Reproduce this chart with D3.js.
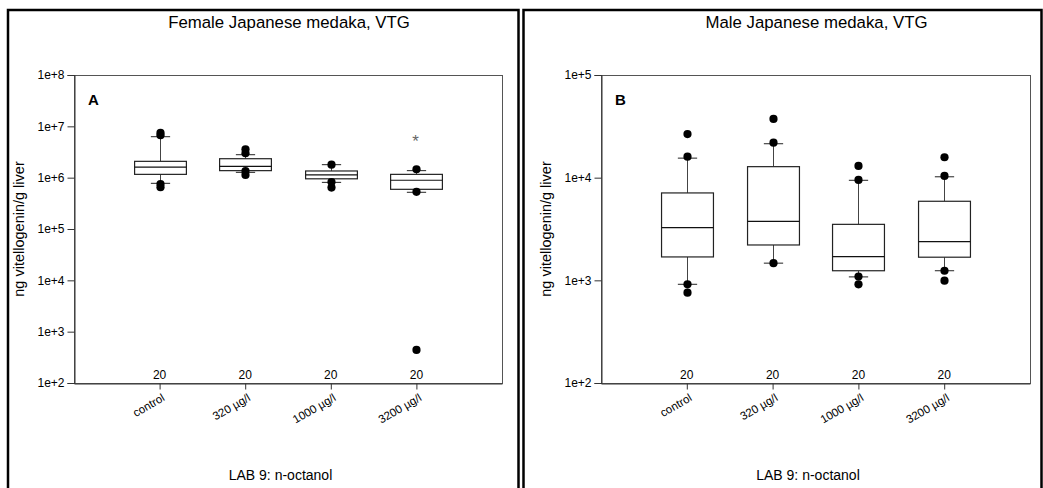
<!DOCTYPE html>
<html>
<head>
<meta charset="utf-8">
<script src="https://cdn.jsdelivr.net/npm/d3@7/dist/d3.min.js"></script>
<style>
  html, body { margin: 0; padding: 0; background: #fff; }
  svg { display: block; font-family: "Liberation Sans", Arial, sans-serif; }
</style>
</head>
<body>
<svg id="chart" width="1043" height="488"></svg>
<script>
// ---------- data ----------
const categories = ["control", "320 µg/l", "1000 µg/l", "3200 µg/l"];
const sampleSizes = ["20", "20", "20", "20"];
const xAxisTitle = "LAB 9: n-octanol";
const yAxisTitle = "ng vitellogenin/g liver";

// Female (panel A)
const femaleTitle = "Female Japanese medaka, VTG";
const femaleTicks = [1e2, 1e3, 1e4, 1e5, 1e6, 1e7, 1e8];
const femaleTickLabels = ["1e+2", "1e+3", "1e+4", "1e+5", "1e+6", "1e+7", "1e+8"];
const femaleQ1 = [1.16e6, 1.37e6, 9.5e5, 5.93e5];
const femaleMedian = [1.61e6, 1.66e6, 1.13e6, 8.9e5];
const femaleQ3 = [2.08e6, 2.34e6, 1.35e6, 1.16e6];
const femaleWhiskerLo = [7.76e5, 1.27e6, 8.1e5, 5.19e5];
const femaleWhiskerHi = [6.28e6, 2.8e6, 1.79e6, 1.37e6];
const femaleOutliers = [
  [7.5e6, 6.7e6, 7.5e5, 6.5e5],
  [3.57e6, 2.99e6, 1.35e6, 1.13e6],
  [1.79e6, 8.2e5, 6.4e5],
  [1.46e6, 5.3e5, 440]
];
const femaleSignif = ["", "", "", "*"];
const femaleSignifValue = [0, 0, 0, 5.8e6];

// Male (panel B)
const maleTitle = "Male Japanese medaka, VTG";
const maleTicks = [1e2, 1e3, 1e4, 1e5];
const maleTickLabels = ["1e+2", "1e+3", "1e+4", "1e+5"];
const maleQ1 = [1.69e3, 2.21e3, 1.24e3, 1.68e3];
const maleMedian = [3.26e3, 3.76e3, 1.70e3, 2.38e3];
const maleQ3 = [7.1e3, 1.28e4, 3.51e3, 5.89e3];
const maleWhiskerLo = [915, 1.47e3, 1.08e3, 1.24e3];
const maleWhiskerHi = [1.55e4, 2.14e4, 9.43e3, 1.02e4];
const maleOutliers = [
  [2.66e4, 1.6e4, 915, 758],
  [3.73e4, 2.19e4, 1.47e3],
  [1.30e4, 9.5e3, 1.09e3, 915],
  [1.58e4, 1.04e4, 1.24e3, 993]
];
const maleSignif = ["", "", "", ""];
const maleSignifValue = [0, 0, 0, 0];

// ---------- drawing ----------
const svg = d3.select("#chart");

function drawPanel(cfg) {
  const g = svg.append("g");
  // outer panel border
  g.append("rect")
    .attr("x", cfg.bx0).attr("y", 10)
    .attr("width", cfg.bx1 - cfg.bx0).attr("height", 500)
    .attr("fill", "none").attr("stroke", "#000").attr("stroke-width", 2.5);

  const top = 75, bottom = 383;
  const x = d3.scaleLinear().domain([0, categories.length + 1]).range([cfg.px0, cfg.px1]);
  const y = d3.scaleLog().domain(cfg.domain).range([bottom, top]);
  const band = x(1) - x(0);
  const boxW = band * 0.605;
  const capW = band * 0.225;

  // frame
  g.append("rect")
    .attr("x", cfg.px0 + 0.5).attr("y", top + 0.5)
    .attr("width", cfg.px1 - cfg.px0).attr("height", bottom - top)
    .attr("fill", "none").attr("stroke", "#555").attr("stroke-width", 1);

  // y axis
  const yAxis = d3.axisLeft(y).tickValues(cfg.ticks)
    .tickFormat((d, i) => cfg.tickLabels[i]).tickSize(7).tickPadding(3);
  const ya = g.append("g").attr("transform", `translate(${cfg.px0 + 0.5},0)`).call(yAxis);
  ya.select(".domain").attr("stroke", "#333");
  ya.selectAll(".tick line").attr("stroke", "#333");
  ya.selectAll(".tick text").attr("font-size", 12).attr("fill", "#000")
    .attr("font-family", "Liberation Sans, Arial, sans-serif");

  // x axis
  const xAxis = d3.axisBottom(x).tickValues(d3.range(1, categories.length + 1))
    .tickFormat("").tickSize(6).tickSizeOuter(0);
  const xa = g.append("g").attr("transform", `translate(0,${bottom + 0.5})`).call(xAxis);
  xa.select(".domain").attr("stroke", "#333");
  xa.selectAll(".tick line").attr("stroke", "#333");

  // category labels
  g.selectAll(".cat").data(categories).enter().append("text")
    .attr("transform", (d, i) => `translate(${x(i + 1) + 6},${bottom + 17}) rotate(-30)`)
    .attr("text-anchor", "end").attr("font-size", 11.5).attr("fill", "#000")
    .text(d => d);

  // n labels
  g.selectAll(".n").data(sampleSizes).enter().append("text")
    .attr("x", (d, i) => x(i + 1)).attr("y", bottom - 4)
    .attr("text-anchor", "middle").attr("font-size", 12).attr("fill", "#000")
    .text(d => d);

  const idx = d3.range(categories.length);
  idx.forEach(i => {
    const cx = Math.round(x(i + 1)) + 0.5;
    g.append("line").attr("x1", cx).attr("x2", cx)
      .attr("y1", y(cfg.whiskerHi[i])).attr("y2", y(cfg.q3[i]))
      .attr("stroke", "#444").attr("stroke-width", 1);
    g.append("line").attr("x1", cx).attr("x2", cx)
      .attr("y1", y(cfg.q1[i])).attr("y2", y(cfg.whiskerLo[i]))
      .attr("stroke", "#444").attr("stroke-width", 1);
    [cfg.whiskerHi[i], cfg.whiskerLo[i]].forEach(v => {
      g.append("line").attr("x1", cx - capW / 2).attr("x2", cx + capW / 2)
        .attr("y1", y(v)).attr("y2", y(v))
        .attr("stroke", "#222").attr("stroke-width", 1);
    });
    g.append("rect")
      .attr("x", cx - boxW / 2).attr("y", y(cfg.q3[i]))
      .attr("width", boxW).attr("height", y(cfg.q1[i]) - y(cfg.q3[i]))
      .attr("fill", "#fff").attr("stroke", "#222").attr("stroke-width", 1.2);
    g.append("line").attr("x1", cx - boxW / 2).attr("x2", cx + boxW / 2)
      .attr("y1", y(cfg.median[i])).attr("y2", y(cfg.median[i]))
      .attr("stroke", "#111").attr("stroke-width", 1.2);
    g.selectAll(null).data(cfg.outliers[i]).enter().append("circle")
      .attr("cx", cx).attr("cy", d => y(d)).attr("r", 4.1).attr("fill", "#000");
    if (cfg.signif[i]) {
      g.append("text").attr("x", cx - 1).attr("y", y(cfg.signifValue[i]) + 9)
        .attr("text-anchor", "middle").attr("font-size", 17).attr("fill", "#666")
        .text(cfg.signif[i]);
    }
  });

  // panel letter
  g.append("text").attr("x", cfg.px0 + 14).attr("y", 105)
    .attr("font-size", 15).attr("font-weight", "bold").attr("fill", "#000")
    .text(cfg.letter);

  // title
  g.append("text").attr("x", (cfg.px0 + cfg.px1) / 2 + 1).attr("y", 27.5)
    .attr("text-anchor", "middle").attr("font-size", 16.8).attr("fill", "#000")
    .text(cfg.title);

  // x axis title
  g.append("text").attr("x", (cfg.px0 + cfg.px1) / 2 - 7.5).attr("y", 480)
    .attr("text-anchor", "middle").attr("font-size", 14).attr("fill", "#000")
    .text(xAxisTitle);

  // y axis title
  g.append("text")
    .attr("transform", `translate(${cfg.px0 - 50},${(top + bottom) / 2}) rotate(-90)`)
    .attr("text-anchor", "middle").attr("font-size", 14.5).attr("fill", "#000")
    .text(yAxisTitle);
}

drawPanel({
  bx0: 8, bx1: 518.5, px0: 74, px1: 502,
  domain: [1e2, 1e8], ticks: femaleTicks, tickLabels: femaleTickLabels,
  q1: femaleQ1, median: femaleMedian, q3: femaleQ3,
  whiskerLo: femaleWhiskerLo, whiskerHi: femaleWhiskerHi,
  outliers: femaleOutliers, signif: femaleSignif, signifValue: femaleSignifValue,
  letter: "A", title: femaleTitle
});

drawPanel({
  bx0: 523.5, bx1: 1041.5, px0: 601, px1: 1030,
  domain: [1e2, 1e5], ticks: maleTicks, tickLabels: maleTickLabels,
  q1: maleQ1, median: maleMedian, q3: maleQ3,
  whiskerLo: maleWhiskerLo, whiskerHi: maleWhiskerHi,
  outliers: maleOutliers, signif: maleSignif, signifValue: maleSignifValue,
  letter: "B", title: maleTitle
});
</script>
</body>
</html>
